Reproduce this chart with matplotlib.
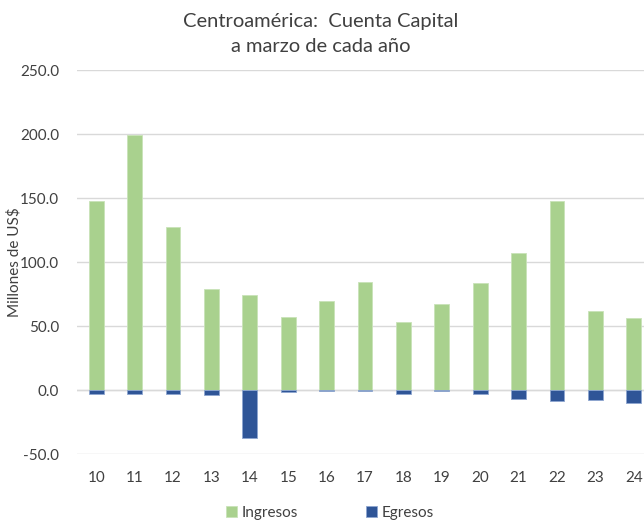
import matplotlib
matplotlib.use("Agg")
import matplotlib.pyplot as plt
import numpy as np

years = ["10", "11", "12", "13", "14", "15", "16", "17", "18", "19", "20", "21", "22", "23", "24"]
ingresos = [148.0, 199.0, 127.5, 79.0, 74.0, 57.0, 69.5, 84.5, 53.0, 67.5, 83.5, 107.0, 147.5, 61.5, 56.0]
egresos = [-3.4, -3.4, -3.4, -4.2, -37.8, -1.3, -0.8, -1.0, -3.4, -1.0, -2.9, -7.3, -8.3, -7.8, -10.4]
yticks = [-50, 0, 50, 100, 150, 200, 250]

plt.rcParams['font.family'] = ['Lato', 'DejaVu Sans']

W, H = 644, 522
fig = plt.figure(figsize=(W / 100, H / 100), dpi=100)
left, right = 77, 653
top, bottom = 70, 454
ax = fig.add_axes([left / W, (H - bottom) / H, (right - left) / W, (bottom - top) / H])

x = np.arange(len(years))
green = "#A9D18E"
blue = "#2F5597"
bw = 0.39
ax.bar(x, ingresos, width=bw, color=green, edgecolor="#c9e3b8", linewidth=0.6, label="Ingresos", zorder=3)
ax.bar(x, egresos, width=bw, color=blue, edgecolor="#8ea6d0", linewidth=0.6, label="Egresos", zorder=3)

ax.set_xlim(-0.5, len(years) - 0.5)
ax.set_ylim(-50, 250)
ax.set_yticks(yticks)
ax.set_yticklabels([f"{v:.1f}" for v in yticks])
ax.set_xticks(x)
ax.set_xticklabels(years)
ax.grid(axis="y", color="#d9d9d9", linewidth=1.0, zorder=0)
ax.axhline(0, color="#d9d9d9", linewidth=1.0, zorder=2)
for s in ax.spines.values():
    s.set_visible(False)
ax.tick_params(axis="both", length=0, labelsize=11, colors="#404040")
ax.tick_params(axis="y", pad=13)
ax.tick_params(axis="x", pad=12)

ax.set_ylabel("Millones de US$", fontsize=11, color="#404040")
ax.yaxis.set_label_coords(-(77 - 22) / (right - left), 0.5)

fig.text(321 / W, 1 - 21 / H, "Centroamérica:  Cuenta Capital", ha="center", va="center",
         fontsize=14.5, color="#404040")
fig.text(321 / W, 1 - 46 / H, "a marzo de cada año", ha="center", va="center",
         fontsize=14.5, color="#404040")

leg = fig.legend(loc="center", bbox_to_anchor=(330 / W, 1 - 513 / H), ncol=2, frameon=False,
                 fontsize=11, handlelength=0.7, handleheight=0.7, handletextpad=0.3, columnspacing=4.5,
                 labelcolor="#404040")

fig.savefig("out.png", dpi=100)
